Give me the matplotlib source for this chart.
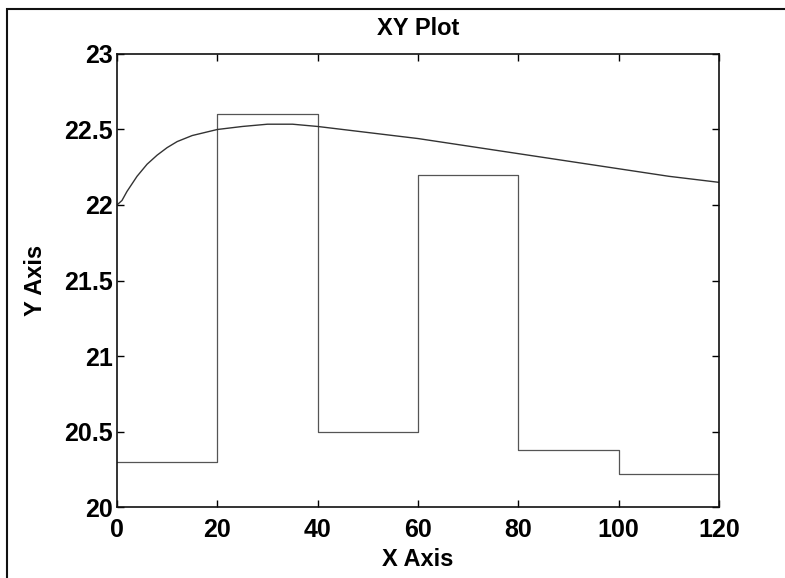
"""XY Plot: stepped input against a smooth response curve (MATLAB-style)."""
import matplotlib

matplotlib.use("Agg")
import matplotlib.pyplot as plt  # noqa: E402
from matplotlib.patches import Rectangle  # noqa: E402

# stepped signal: value holds from each x until the next one
step_x = [0, 20, 40, 60, 80, 100, 120]
step_y = [20.3, 22.6, 20.5, 22.2, 20.38, 20.22, 20.52]

# smooth response
curve_x = [0, 1, 2, 4, 6, 8, 10, 12, 15, 20, 25, 30, 35, 40, 50, 60, 70, 80, 90, 100, 110, 120]
curve_y = [22.00, 22.03, 22.09, 22.19, 22.27, 22.33, 22.38, 22.42, 22.46, 22.50, 22.52,
           22.535, 22.535, 22.52, 22.48, 22.44, 22.39, 22.34, 22.29, 22.24, 22.19, 22.15]

x_ticks = [0, 20, 40, 60, 80, 100, 120]
y_ticks = [20, 20.5, 21, 21.5, 22, 22.5, 23]

plt.rcParams["font.family"] = ["Liberation Sans", "DejaVu Sans"]

fig = plt.figure(figsize=(7.85, 5.78), dpi=100, facecolor="white")
ax = fig.add_axes([0.149, 0.1228, 0.767, 0.7838])

ax.plot(step_x, step_y, drawstyle="steps-post", color="#555555", linewidth=0.9)
ax.plot(curve_x, curve_y, color="#333333", linewidth=1.0)

ax.set_xlim(0, 120)
ax.set_ylim(20, 23)
ax.set_xticks(x_ticks)
ax.set_yticks(y_ticks)
ax.set_yticklabels([f"{v:g}" for v in y_ticks])
ax.tick_params(direction="in", length=5, width=1, top=True, right=True,
               labelsize=18)
ax.tick_params(axis="x", pad=8)
ax.tick_params(axis="y", pad=3)
for label in ax.get_xticklabels() + ax.get_yticklabels():
    label.set_fontweight("bold")
for spine in ax.spines.values():
    spine.set_linewidth(1.2)
    spine.set_color("#111111")

ax.set_xlabel("X Axis", fontsize=17, fontweight="bold", labelpad=4)
ax.set_ylabel("Y Axis", fontsize=17, fontweight="bold", labelpad=12)
ax.set_title("XY Plot", fontsize=17, fontweight="bold", pad=14)

# outer figure frame as in the scanned printout
fig.patches.append(Rectangle((7 / 785, -0.02), 1.1, 1 - 9 / 578 + 0.02,
                             transform=fig.transFigure, fill=False,
                             edgecolor="#111111", linewidth=1.5))

fig.savefig("out.png", dpi=100, facecolor="white")
plt.close(fig)
